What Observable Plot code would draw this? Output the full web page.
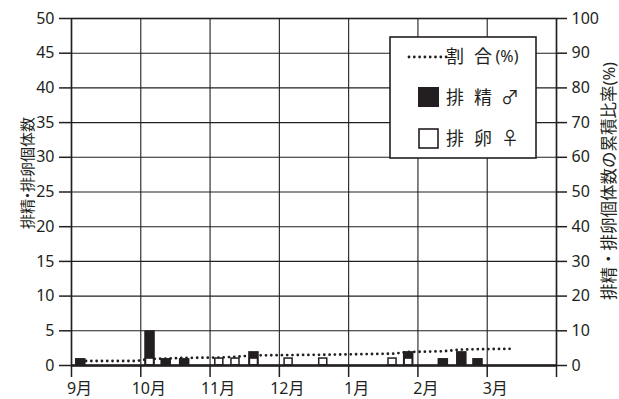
<!DOCTYPE html>
<html>
<head>
<meta charset="utf-8">
<script src="https://cdn.jsdelivr.net/npm/d3@7"></script>
<script src="https://cdn.jsdelivr.net/npm/@observablehq/plot@0.6"></script>
<style>
  html, body { margin: 0; padding: 0; background: #fff; }
  svg { display: block; }
</style>
</head>
<body>
<script>
// ---- data ----
const months = ["9月", "10月", "11月", "12月", "1月", "2月", "3月", ""];
const maleDates = ["9/5", "10/5", "10/12", "10/20", "11/20", "1/27", "2/12", "2/20", "2/27"];
const maleCounts = [1, 5, 1, 1, 2, 2, 1, 2, 1];
const femaleDates = ["10/5", "11/5", "11/12", "11/20", "12/5", "12/20", "1/20", "1/27"];
const femaleCounts = [1, 1, 1, 1, 1, 1, 1, 1];
const ratioDates = ["9/5", "9/29", "10/5", "10/12", "10/20", "11/5", "11/12", "11/20", "12/5", "12/20", "1/20", "1/27", "2/12", "2/20", "2/27", "3/11"];
const ratioPct = [1.3, 1.3, 1.9, 2.0, 2.2, 2.3, 2.5, 2.9, 3.0, 3.1, 3.4, 3.9, 4.1, 4.6, 4.7, 4.8];
const leftTicks = [0, 5, 10, 15, 20, 25, 30, 35, 40, 45, 50];
const rightTicks = [0, 10, 20, 30, 40, 50, 60, 70, 80, 90, 100];
const leftTitle = ["排精", "・", "排卵個体数"];
const rightTitle = "排精・排卵個体数の累積比率(%)";
const legendLabels = [["割", "合", "(%)"], ["排", "精", "♂"], ["排", "卵", "♀"]];

// month position: Sep = 0 ... Mar = 6, Apr = 7
const pos = s => { const [m, d] = s.split("/").map(Number); return (m + 3) % 12 + (d - 1) / 30; };

const male = maleDates.map((d, i) => ({ x: pos(d), n: maleCounts[i] }));
const female = femaleDates.map((d, i) => ({ x: pos(d), n: femaleCounts[i] }));
const ratio = ratioDates.map((d, i) => ({ x: pos(d), p: ratioPct[i] }));

const INK = "#231f20";
const FONT = "'Noto Sans', 'Noto Sans CJK JP', sans-serif";
const monthTicks = d3.range(0, 8);

const svg = Plot.plot({
  width: 619,
  height: 399,
  marginLeft: 71,
  marginRight: 63,
  marginTop: 18,
  marginBottom: 34,
  style: { fontFamily: FONT, fontSize: "16px", color: INK, background: "#fff" },
  x: { type: "linear", domain: [0, 7] },
  y: { domain: [0, 50] },
  marks: [
    Plot.gridX(monthTicks, { stroke: INK, strokeOpacity: 1, strokeWidth: 1.1 }),
    Plot.gridY(leftTicks, { stroke: INK, strokeOpacity: 1, strokeWidth: 1.1 }),
    Plot.line(ratio, { x: "x", y: d => d.p / 2, stroke: INK, strokeWidth: 2.8, strokeDasharray: "0,5.3", strokeLinecap: "round" }),
    Plot.rectY(male, { x1: d => d.x - 0.076, x2: d => d.x + 0.076, y1: 0, y2: "n", fill: INK }),
    Plot.rectY(female, { x1: d => d.x - 0.058, x2: d => d.x + 0.058, y1: 0, y2: "n", fill: "#fff", stroke: INK, strokeWidth: 1.5 }),
    Plot.frame({ stroke: INK, strokeWidth: 1.6 }),
    Plot.ruleY([0], { stroke: INK, strokeWidth: 2.6 }),
    Plot.axisY({ anchor: "left", ticks: leftTicks, tickSize: 12, tickPadding: 5, strokeWidth: 1.5, stroke: INK, fill: INK, fontSize: 16, label: null }),
    Plot.axisY({ anchor: "right", ticks: rightTicks.map(v => v / 2), tickFormat: v => String(v * 2), tickSize: 10, tickPadding: 5, strokeWidth: 1.5, stroke: INK, fill: INK, fontSize: 16, label: null }),
    Plot.axisX({ anchor: "bottom", ticks: monthTicks, tickSize: 12, strokeWidth: 1.5, stroke: INK, text: null, label: null }),
    Plot.axisX({ anchor: "bottom", ticks: monthTicks, tickFormat: i => months[i], tickSize: 0, tickPadding: 17, dx: 8, fill: INK, fontSize: 16, label: null })
  ]
});
document.body.appendChild(svg);

// axis titles and legend
const s = d3.select(svg);
const lt = s.append("text")
  .attr("transform", "translate(27,173) rotate(-90)")
  .attr("text-anchor", "middle").attr("dominant-baseline", "central")
  .attr("font-family", FONT).attr("font-size", 15).attr("fill", INK);
lt.append("tspan").text(leftTitle[0]);
lt.append("tspan").attr("dx", -4).text(leftTitle[1]);
lt.append("tspan").attr("dx", -4).text(leftTitle[2]);
s.append("text")
  .attr("transform", "translate(608,181) rotate(-90)")
  .attr("text-anchor", "middle").attr("dominant-baseline", "central")
  .attr("font-family", FONT).attr("font-size", 16.5).attr("fill", INK)
  .text(rightTitle);

const lg = s.append("g");
lg.append("rect").attr("x", 390).attr("y", 37).attr("width", 146).attr("height", 121)
  .attr("fill", "#fff").attr("stroke", INK).attr("stroke-width", 1.6);
lg.append("line").attr("x1", 409).attr("x2", 447).attr("y1", 57).attr("y2", 57)
  .attr("stroke", INK).attr("stroke-width", 2.8).attr("stroke-dasharray", "0,5.3").attr("stroke-linecap", "round");
lg.append("rect").attr("x", 418).attr("y", 87).attr("width", 21).attr("height", 20).attr("fill", INK);
lg.append("rect").attr("x", 419).attr("y", 129).attr("width", 19).attr("height", 19)
  .attr("fill", "#fff").attr("stroke", INK).attr("stroke-width", 1.6);
const ys = [56, 97, 138];
const xs = [455, 483, 510];
legendLabels.forEach((parts, i) => {
  const t = lg.append("text").attr("y", ys[i])
    .attr("dominant-baseline", "central").attr("font-family", FONT).attr("font-size", 18).attr("fill", INK);
  parts.forEach((p, j) => {
    const ts = t.append("tspan").attr("x", xs[j] - (i === 0 && j === 2 ? 3 : 0)).text(p);
    if (i === 0 && j === 2) ts.attr("font-size", 16);
  });
});
</script>
</body>
</html>
